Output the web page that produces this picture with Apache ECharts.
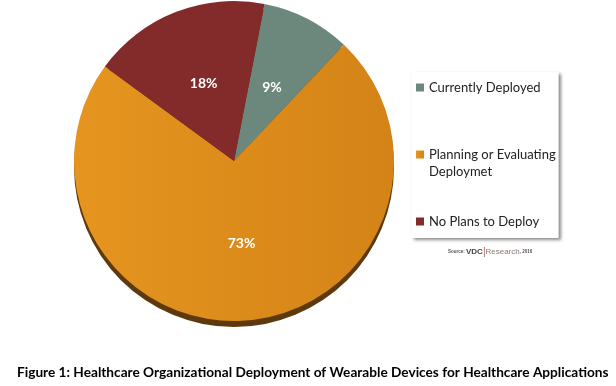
<!DOCTYPE html>
<html>
<head>
<meta charset="utf-8">
<style>
html, body { margin: 0; padding: 0; background: #fff; }
#chart { width: 616px; height: 386px; }
</style>
<script src="https://cdn.jsdelivr.net/npm/echarts@6/dist/echarts.min.js"></script>
</head>
<body>
<div id="chart"></div>
<script>
const categories = ['Currently Deployed', 'Planning or Evaluating Deploymet', 'No Plans to Deploy']
const shares = [9, 73, 18]
const sliceColors = ['#6c887d', '#dd8c1b', '#832a2b']
const legendText = {
    'Currently Deployed': 'Currently Deployed',
    'Planning or Evaluating Deploymet': ' \nPlanning or Evaluating\nDeploymet',
    'No Plans to Deploy': 'No Plans to Deploy'
}
const figureTitle = 'Figure 1: Healthcare Organizational Deployment of Wearable Devices for Healthcare Applications'

const pieCenter = [234, 161]
const pieRadius = 160
const font = 'Lato'

const orangeFill = {
    type: 'linear', x: 0, y: 0, x2: 1, y2: 0,
    colorStops: [
        { offset: 0, color: '#e5951f' },
        { offset: 1, color: '#d48317' }
    ]
}

const chart = echarts.init(document.getElementById('chart'), null, { renderer: 'canvas' })
chart.setOption({
    animation: false,
    backgroundColor: '#fff',
    title: [{
        text: figureTitle,
        left: 12,
        top: 361,
        textStyle: { fontFamily: font, fontSize: 13.66, fontWeight: 'bold', color: '#000' }
    }, {
        text: '{a|Source: }{b|VDC}{s||}{c|Research}{a|, 2016}',
        left: 443,
        top: 242,
        textStyle: {
            fontWeight: 'normal',
            rich: {
                a: { fontFamily: 'Liberation Sans', fontSize: 4.5, color: '#555', fontWeight: 'bold' },
                b: { fontFamily: 'Liberation Sans', fontSize: 8, color: '#444', fontWeight: 'bold' },
                s: { fontFamily: 'Liberation Sans', fontSize: 10, color: '#a0645a' },
                c: { fontFamily: 'Liberation Sans', fontSize: 8, color: '#8a7a72' }
            }
        }
    }],
    legend: {
        orient: 'vertical',
        left: 412,
        top: 72,
        padding: [7, 3, 8, 4],
        itemGap: 33,
        itemWidth: 8,
        itemHeight: 8,
        icon: 'rect',
        backgroundColor: '#fff',
        shadowColor: 'rgba(0, 0, 0, 0.45)',
        shadowBlur: 3,
        shadowOffsetX: 2,
        shadowOffsetY: 2,
        data: categories,
        formatter: name => legendText[name],
        textStyle: { fontFamily: font, fontSize: 13, lineHeight: 17, color: '#222' }
    },
    series: [{
        // dark rim under the pie
        type: 'pie',
        silent: true,
        center: [pieCenter[0], pieCenter[1] + 6],
        radius: pieRadius,
        legendHoverLink: false,
        label: { show: false },
        labelLine: { show: false },
        itemStyle: { color: '#5c3a0d' },
        tooltip: { show: false },
        data: [{ value: 1, name: 'rim' }]
    }, {
        type: 'pie',
        center: pieCenter,
        radius: pieRadius,
        startAngle: 79,
        clockwise: true,
        label: {
            show: true,
            position: 'inside',
            formatter: '{d}%',
            fontFamily: font,
            fontSize: 14,
            fontWeight: 'bold',
            color: '#fff'
        },
        labelLine: { show: false },
        data: categories.map((name, i) => ({
            name: name,
            value: shares[i],
            itemStyle: { color: i === 1 ? orangeFill : sliceColors[i] }
        }))
    }],
    color: sliceColors
})
</script>
</body>
</html>
